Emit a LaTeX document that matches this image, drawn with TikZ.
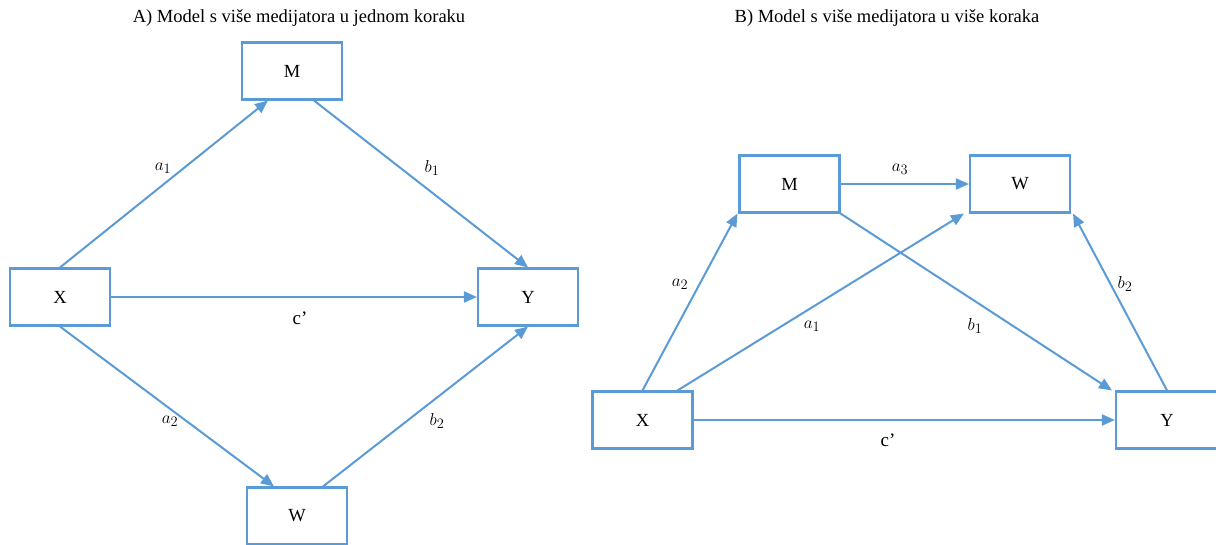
\documentclass[tikz,border=0pt]{standalone}
\usepackage{fontspec}
\setmainfont{Liberation Serif}
\usetikzlibrary{arrows.meta,calc}
\definecolor{lblue}{HTML}{5B9BD5}
\begin{document}
\begin{tikzpicture}[x=1pt,y=-1pt,
  box/.style={draw=lblue,line width=2.1pt,minimum width=100pt,minimum height=57pt,inner sep=0pt,font=\fontsize{18.5}{21}\selectfont},
  conn/.style={draw=lblue,line width=2pt,-{Triangle[length=13pt,width=11pt]}},
  lab/.style={font=\fontsize{19}{21}\selectfont},
  ttl/.style={font=\fontsize{18.5}{21}\selectfont}]
\useasboundingbox (0,0) rectangle (1216,545);
\begin{scope}
\clip (0,0) rectangle (1216,545);
% titles
\node[ttl] (ta) at (299,18) {A) Model s više medijatora u jednom koraku};
\node[ttl] (tb) at (887,18) {B) Model s više medijatora u više koraka};
% left diagram
\node[box] (LM) at (292,71) {M};
\node[box] (LX) at (60,297) {X};
\node[box] (LY) at (528,297) {Y};
\node[box] (LW) at (297,516) {W};
\draw[conn] (LX.north) -- ([xshift=27pt]LM.south west);
\draw[conn] ([xshift=22pt]LM.south) -- (LY.north);
\draw[conn] (LX.east) -- (LY.west);
\draw[conn] (LX.south) -- ([xshift=-23pt]LW.north);
\draw[conn] ([xshift=26pt]LW.north) -- (LY.south);
\node[lab] (la1) at (163,168) {$a_1$};
\node[lab] (lb1) at (432,168) {$b_1$};
\node[lab] (lc) at (300,318) {c’};
\node[lab] (la2) at (170,421) {$a_2$};
\node[lab] (lb2) at (437,421) {$b_2$};
% right diagram
\node[box] (RM) at (789.5,184) {M};
\node[box] (RW) at (1020,184) {W};
\node[box] (RX) at (642.5,420) {X};
\node[box,minimum width=102pt] (RY) at (1167,420) {Y};
\draw[conn] (RM.east) -- (RW.west);
\draw[conn] (RX.north) -- ([xshift=-1pt]RM.south west);
\draw[conn] ([xshift=35pt]RX.north) -- ([xshift=-5pt]RW.south west);
\draw[conn] (RM.south east) -- ([xshift=-3pt]RY.north west);
\draw[conn] (RY.north) -- ([xshift=2pt]RW.south east);
\draw[conn] (RX.east) -- (RY.west);
\node[lab] (ra3) at (900,169) {$a_3$};
\node[lab] (ra2) at (680,284) {$a_2$};
\node[lab] (ra1) at (812,326) {$a_1$};
\node[lab] (rb1) at (975,326) {$b_1$};
\node[lab] (rb2) at (1125,284) {$b_2$};
\node[lab] (rc) at (888,440) {c’};
\end{scope}
\end{tikzpicture}
\end{document}
